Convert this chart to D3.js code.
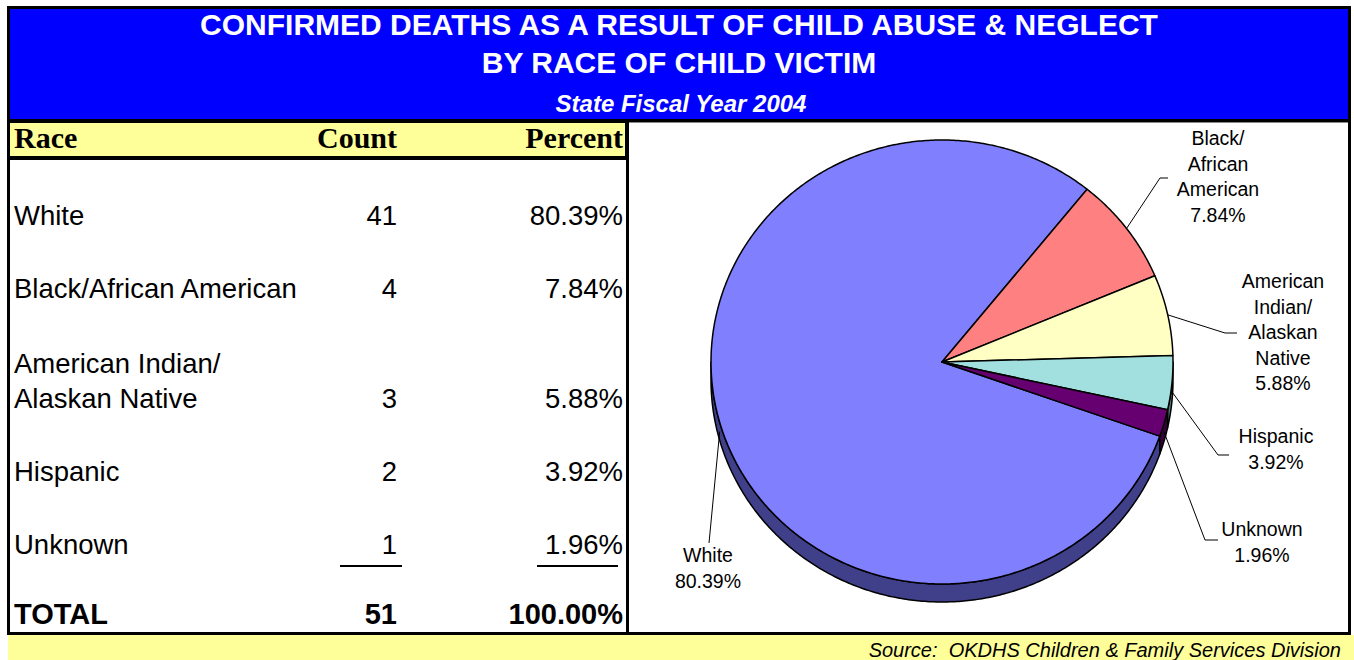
<!DOCTYPE html>
<html lang="en">
<head>
  <meta charset="UTF-8">
  <title>Confirmed deaths by race of child victim</title>
  <script src="https://d3js.org/d3.v7.min.js"></script>
  <style>
    body { margin: 0; overflow: hidden; background: #fff; }
    text { font-family: "Liberation Sans", Arial, sans-serif; white-space: pre; }
    .serif { font-family: "Liberation Serif", "Times New Roman", serif; }
  </style>
</head>
<body>
  <script>
    // data
    const races = ["White", "Black/African American", "American Indian/\nAlaskan Native", "Hispanic", "Unknown"];
    const counts = [41, 4, 3, 2, 1];
    const percents = [80.39, 7.84, 5.88, 3.92, 1.96];
    const totalPercent = 100.00;
    const pieLabels = ["White", "Black/\nAfrican\nAmerican", "American\nIndian/\nAlaskan\nNative", "Hispanic", "Unknown"];
    const totalLabel = "TOTAL";
    const titleLines = ["CONFIRMED DEATHS AS A RESULT OF CHILD ABUSE & NEGLECT", "BY RACE OF CHILD VICTIM"];
    const subtitle = "State Fiscal Year 2004";
    const source = "Source:  OKDHS Children & Family Services Division";

    const topColors = ["#8080ff", "#ff8080", "#ffffc4", "#a2e0e0", "#660070"];
    const sideColors = ["#40408a", "#804040", "#80806a", "#518080", "#330038"];

    const width = 1354, height = 660;

    const svg = d3.select("body").append("svg")
      .attr("width", width)
      .attr("height", height);

    // frame
    svg.append("rect").attr("x", 7).attr("y", 6).attr("width", 1344).attr("height", 629).attr("fill", "#000");
    svg.append("rect").attr("x", 10).attr("y", 9).attr("width", 1338).attr("height", 110).attr("fill", "#0000ff");
    svg.append("rect").attr("x", 10).attr("y", 123).attr("width", 615).attr("height", 33).attr("fill", "#ffff99");
    svg.append("rect").attr("x", 10).attr("y", 160).attr("width", 616).attr("height", 472).attr("fill", "#fff");
    svg.append("rect").attr("x", 629).attr("y", 122).attr("width", 719).attr("height", 1).attr("fill", "#888");
    svg.append("rect").attr("x", 629).attr("y", 123).attr("width", 719).attr("height", 509).attr("fill", "#fff");
    svg.append("rect").attr("x", 8).attr("y", 635).attr("width", 1346).attr("height", 25).attr("fill", "#ffff99");

    // titles
    svg.selectAll("text.title").data(titleLines).enter().append("text")
      .attr("class", "title")
      .attr("x", 679).attr("y", (d, i) => 35 + i * 38)
      .attr("text-anchor", "middle")
      .attr("fill", "#fff").attr("font-weight", "bold").attr("font-size", 30)
      .text(d => d);
    svg.append("text")
      .attr("x", 681).attr("y", 112)
      .attr("text-anchor", "middle")
      .attr("fill", "#fff").attr("font-weight", "bold").attr("font-style", "italic").attr("font-size", 24)
      .text(subtitle);

    // table
    const colRace = 14, colCount = 397, colPct = 623;
    const header = svg.append("g").attr("font-weight", "bold").attr("font-size", 30);
    header.append("text").attr("class", "serif").attr("x", colRace).attr("y", 148).text("Race");
    header.append("text").attr("class", "serif").attr("x", colCount).attr("y", 148).attr("text-anchor", "end").text("Count");
    header.append("text").attr("class", "serif").attr("x", colPct).attr("y", 148).attr("text-anchor", "end").text("Percent");

    const rowBase = [225, 298, 408, 481, 554];
    const rows = svg.append("g").attr("font-size", 27.5);
    races.forEach((r, i) => {
      const lines = r.split("\n");
      lines.forEach((ln, j) => {
        rows.append("text").attr("x", colRace)
          .attr("y", rowBase[i] - (lines.length - 1 - j) * 35)
          .text(ln);
      });
      rows.append("text").attr("x", colCount).attr("y", rowBase[i]).attr("text-anchor", "end").text(counts[i]);
      rows.append("text").attr("x", colPct).attr("y", rowBase[i]).attr("text-anchor", "end").text(percents[i].toFixed(2) + "%");
    });
    svg.append("line").attr("x1", 340).attr("x2", 402).attr("y1", 566).attr("y2", 566).attr("stroke", "#000").attr("stroke-width", 2);
    svg.append("line").attr("x1", 537).attr("x2", 618).attr("y1", 566).attr("y2", 566).attr("stroke", "#000").attr("stroke-width", 2);

    const total = d3.sum(counts);
    const tot = svg.append("g").attr("font-size", 29).attr("font-weight", "bold");
    tot.append("text").attr("x", colRace).attr("y", 624).text(totalLabel);
    tot.append("text").attr("x", colCount).attr("y", 624).attr("text-anchor", "end").text(total);
    tot.append("text").attr("x", colPct).attr("y", 624).attr("text-anchor", "end").text(totalPercent.toFixed(2) + "%");

    // 3D-ish pie
    const cx = 942, cy = 362, rx = 231, ry = 222, depth = 18;
    const start = 109.5 * Math.PI / 180;
    const arcs = d3.pie().sort(null).startAngle(start).endAngle(start + 2 * Math.PI)(counts);
    const pt = (a, dy = 0) => [cx + rx * Math.sin(a), cy - ry * Math.cos(a) + dy];
    const sample = (a0, a1, dy) => {
      const n = Math.max(2, Math.ceil(Math.abs(a1 - a0) / 0.01));
      return d3.range(n + 1).map(k => pt(a0 + (a1 - a0) * k / n, dy));
    };
    const line = d3.line();
    const pieG = svg.append("g");

    // side walls (lower half only: d3 angles between 90 and 270 degrees)
    arcs.forEach((d, i) => {
      [0, 2 * Math.PI, -2 * Math.PI].forEach(shift => {
        const s = Math.max(d.startAngle + shift, Math.PI / 2);
        const e = Math.min(d.endAngle + shift, 3 * Math.PI / 2);
        if (e <= s) return;
        const pts = sample(s, e, 0).concat(sample(e, s, depth));
        pieG.append("path").attr("d", line(pts) + "Z")
          .attr("fill", sideColors[i]).attr("stroke", "#000").attr("stroke-width", 1.5)
          .attr("stroke-linejoin", "round");
      });
    });

    arcs.forEach((d, i) => {
      const pts = [[cx, cy]].concat(sample(d.startAngle, d.endAngle, 0));
      pieG.append("path").attr("d", line(pts) + "Z")
        .attr("fill", topColors[i]).attr("stroke", "#000").attr("stroke-width", 1.5)
        .attr("stroke-linejoin", "round");
    });

    // labels with leader lines
    const labelPos = [[708, 562], [1218, 145], [1283, 288], [1276, 443], [1262, 536]];
    const leaderEnd = [[[709, 543]], [[1160, 178], [1168, 178]], [[1225, 333], [1237, 333]], [[1218, 455], [1229, 455]], [[1205, 540], [1218, 540]]];
    const labG = svg.append("g").attr("font-size", 19.5);
    arcs.forEach((d, i) => {
      const mid = (d.startAngle + d.endAngle) / 2;
      const lower = Math.cos(mid) < 0;
      const p0 = pt(mid, lower ? depth / 2 : 0);
      labG.append("path").attr("d", line([p0].concat(leaderEnd[i])))
        .attr("fill", "none").attr("stroke", "#000").attr("stroke-width", 1);
      const lines = pieLabels[i].split("\n").concat([percents[i].toFixed(2) + "%"]);
      lines.forEach((ln, j) => {
        labG.append("text").attr("x", labelPos[i][0]).attr("y", labelPos[i][1] + j * 25.5)
          .attr("text-anchor", "middle").text(ln);
      });
    });

    svg.append("text")
      .attr("x", 1341).attr("y", 657)
      .attr("text-anchor", "end").attr("font-style", "italic").attr("font-size", 20)
      .text(source);
  </script>
</body>
</html>
